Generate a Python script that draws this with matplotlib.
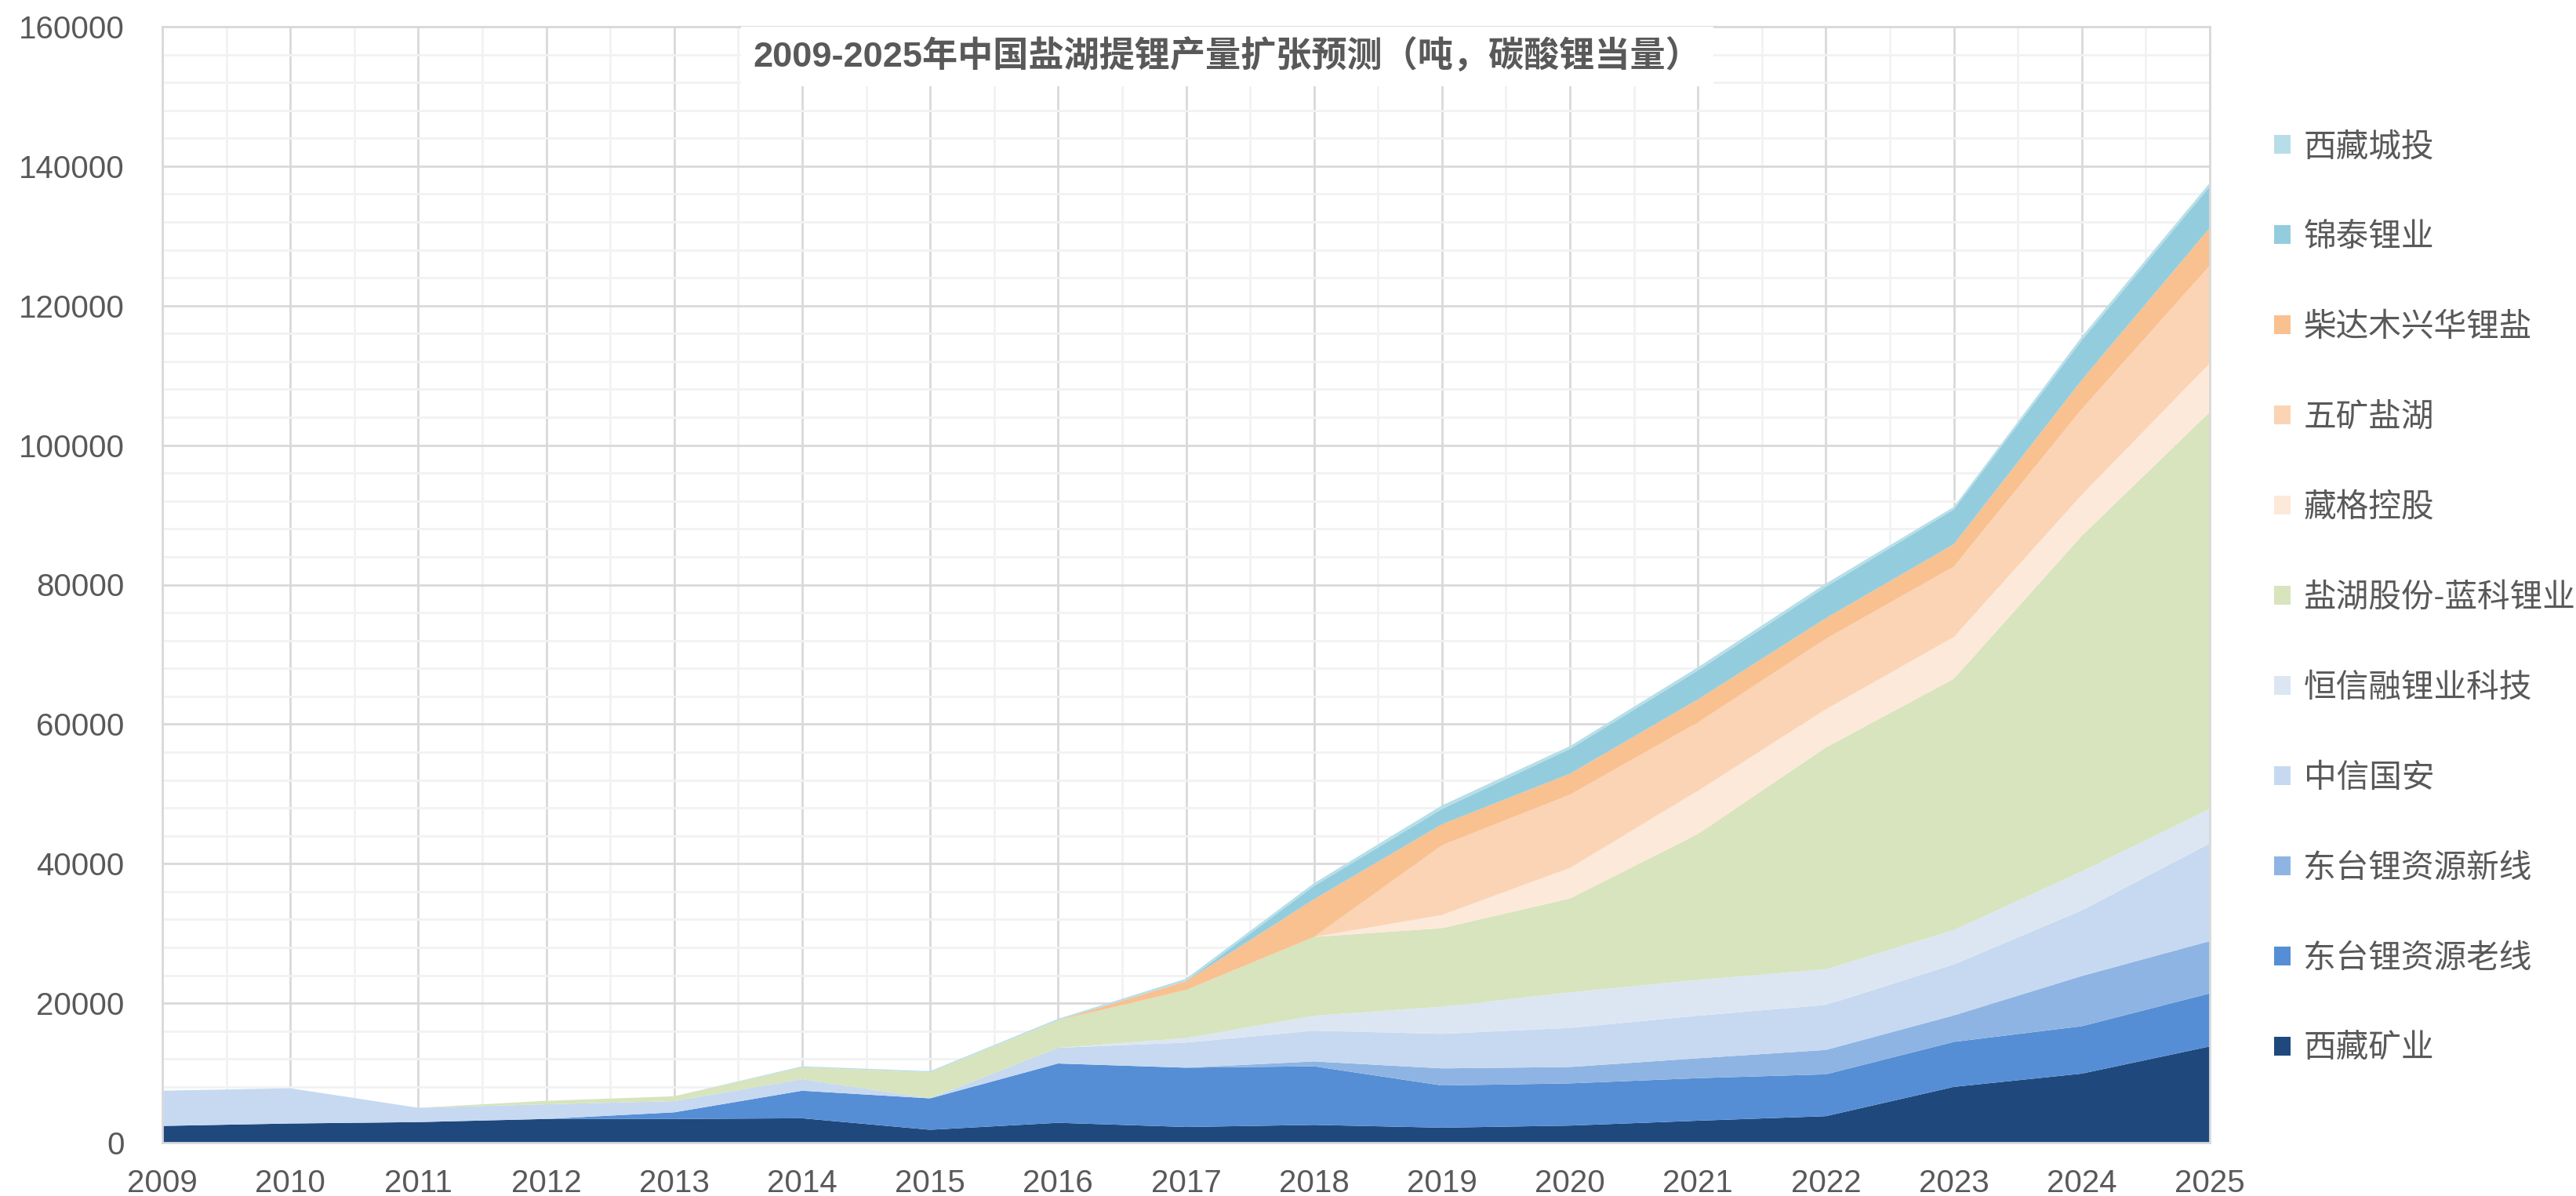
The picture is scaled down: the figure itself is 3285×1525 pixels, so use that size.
import numpy as np
import matplotlib.pyplot as plt
from matplotlib.patches import Patch
from matplotlib.ticker import MultipleLocator

plt.rcParams['font.family'] = ['Liberation Sans', 'Noto Sans CJK SC', 'DejaVu Sans']

# ---- data (tonnes LCE) ----
years = list(range(2009, 2026))
xizang_kuangye = [2400, 2750, 2950, 3400, 3400, 3500, 1850, 2850, 2250, 2550, 2150, 2450, 3150, 3800, 8000, 9900, 13800]
dongtai_old = [0, 0, 0, 0, 950, 3950, 4500, 8500, 8500, 8400, 6050, 6050, 6100, 6000, 6450, 6800, 7600]
dongtai_new = [0, 0, 0, 0, 0, 0, 0, 0, 0, 700, 2450, 2350, 2850, 3500, 3800, 7200, 7500]
citic_guoan = [5050, 5050, 2050, 2100, 1600, 1650, 0, 2250, 3600, 4400, 4950, 5600, 6100, 6450, 7300, 9400, 14000]
hengxinrong = [0, 0, 0, 0, 0, 0, 0, 0, 650, 2150, 3900, 5100, 5150, 5100, 4950, 5600, 4950]
yanhu_lanke = [0, 0, 0, 500, 700, 1700, 3750, 3950, 6900, 11300, 11250, 13450, 20900, 31800, 36000, 48100, 56900]
zangge = [0, 0, 0, 0, 0, 0, 0, 0, 0, 0, 1900, 4400, 6200, 5500, 6000, 5900, 7000]
minmetals = [0, 0, 0, 0, 0, 0, 0, 0, 0, 0, 10000, 10500, 9800, 10100, 10100, 12300, 14000]
qaidamu = [0, 0, 0, 0, 0, 0, 0, 0, 1250, 5400, 3000, 3000, 3300, 2950, 3200, 4150, 5400]
jintai = [0, 0, 0, 0, 0, 0, 0, 0, 0, 1900, 2200, 3550, 4150, 4500, 5000, 5700, 5950]
xizang_chengtou = [0, 0, 0, 0, 0, 150, 150, 200, 350, 400, 500, 400, 450, 450, 350, 500, 500]

labels = ['西藏矿业', '东台锂资源老线', '东台锂资源新线', '中信国安', '恒信融锂业科技',
          '盐湖股份-蓝科锂业', '藏格控股', '五矿盐湖', '柴达木兴华锂盐', '锦泰锂业', '西藏城投']
colors = ['#1F497D', '#558ED5', '#8EB4E3', '#C6D9F1', '#DCE6F2',
          '#D7E4BD', '#FCE9DA', '#FAD4B4', '#F9C090', '#93CDDD', '#B7DEE8']
series = [xizang_kuangye, dongtai_old, dongtai_new, citic_guoan, hengxinrong,
          yanhu_lanke, zangge, minmetals, qaidamu, jintai, xizang_chengtou]

# ---- figure ----
W, H = 3285, 1525
fig = plt.figure(figsize=(W / 100, H / 100), dpi=100)
ax = fig.add_axes([207 / W, 1 - 1457 / H, (2818 - 207) / W, (1457 - 34) / H])

ax.stackplot(years, *series, colors=colors, labels=labels, linewidth=0)

ax.set_xlim(2009, 2025)
ax.set_ylim(0, 160000)
ax.set_xticks(years)
ax.xaxis.set_minor_locator(MultipleLocator(0.5))
ax.yaxis.set_major_locator(MultipleLocator(20000))
ax.yaxis.set_minor_locator(MultipleLocator(4000))

ax.set_axisbelow(True)
ax.grid(which='minor', color='#F2F2F2', linewidth=2)
ax.grid(which='major', color='#D9D9D9', linewidth=2)
for s in ax.spines.values():
    s.set_color('#D9D9D9')
    s.set_linewidth(2)
ax.tick_params(which='both', length=0)
ax.tick_params(axis='y', labelsize=29, labelcolor='#595959', pad=35)
ax.tick_params(axis='x', labelsize=29, labelcolor='#595959', pad=24)

# title inside the plot with a white box
ax.text((1565 - 207) / (2818 - 207), (1457 - 72) / (1457 - 34),
        '2009-2025年中国盐湖提锂产量扩张预测（吨，碳酸锂当量）',
        transform=ax.transAxes, ha='center', va='center', fontsize=32.5,
        fontweight='bold', color='#595959', zorder=10, clip_on=False,
        bbox=dict(boxstyle='square,pad=0.35', fc='white', ec='none'))

# legend, reversed order
handles = [Patch(facecolor=c, edgecolor='none') for c in colors][::-1]
fig.legend(handles, labels[::-1], loc='upper left', bbox_to_anchor=(2900 / W, 1 - 168 / H),
           frameon=False, fontsize=30, labelcolor='#595959',
           handlelength=0.5, handleheight=0.5, handletextpad=0.4,
           labelspacing=1.80, borderaxespad=0, borderpad=0)

fig.savefig('out.png', dpi=100)
